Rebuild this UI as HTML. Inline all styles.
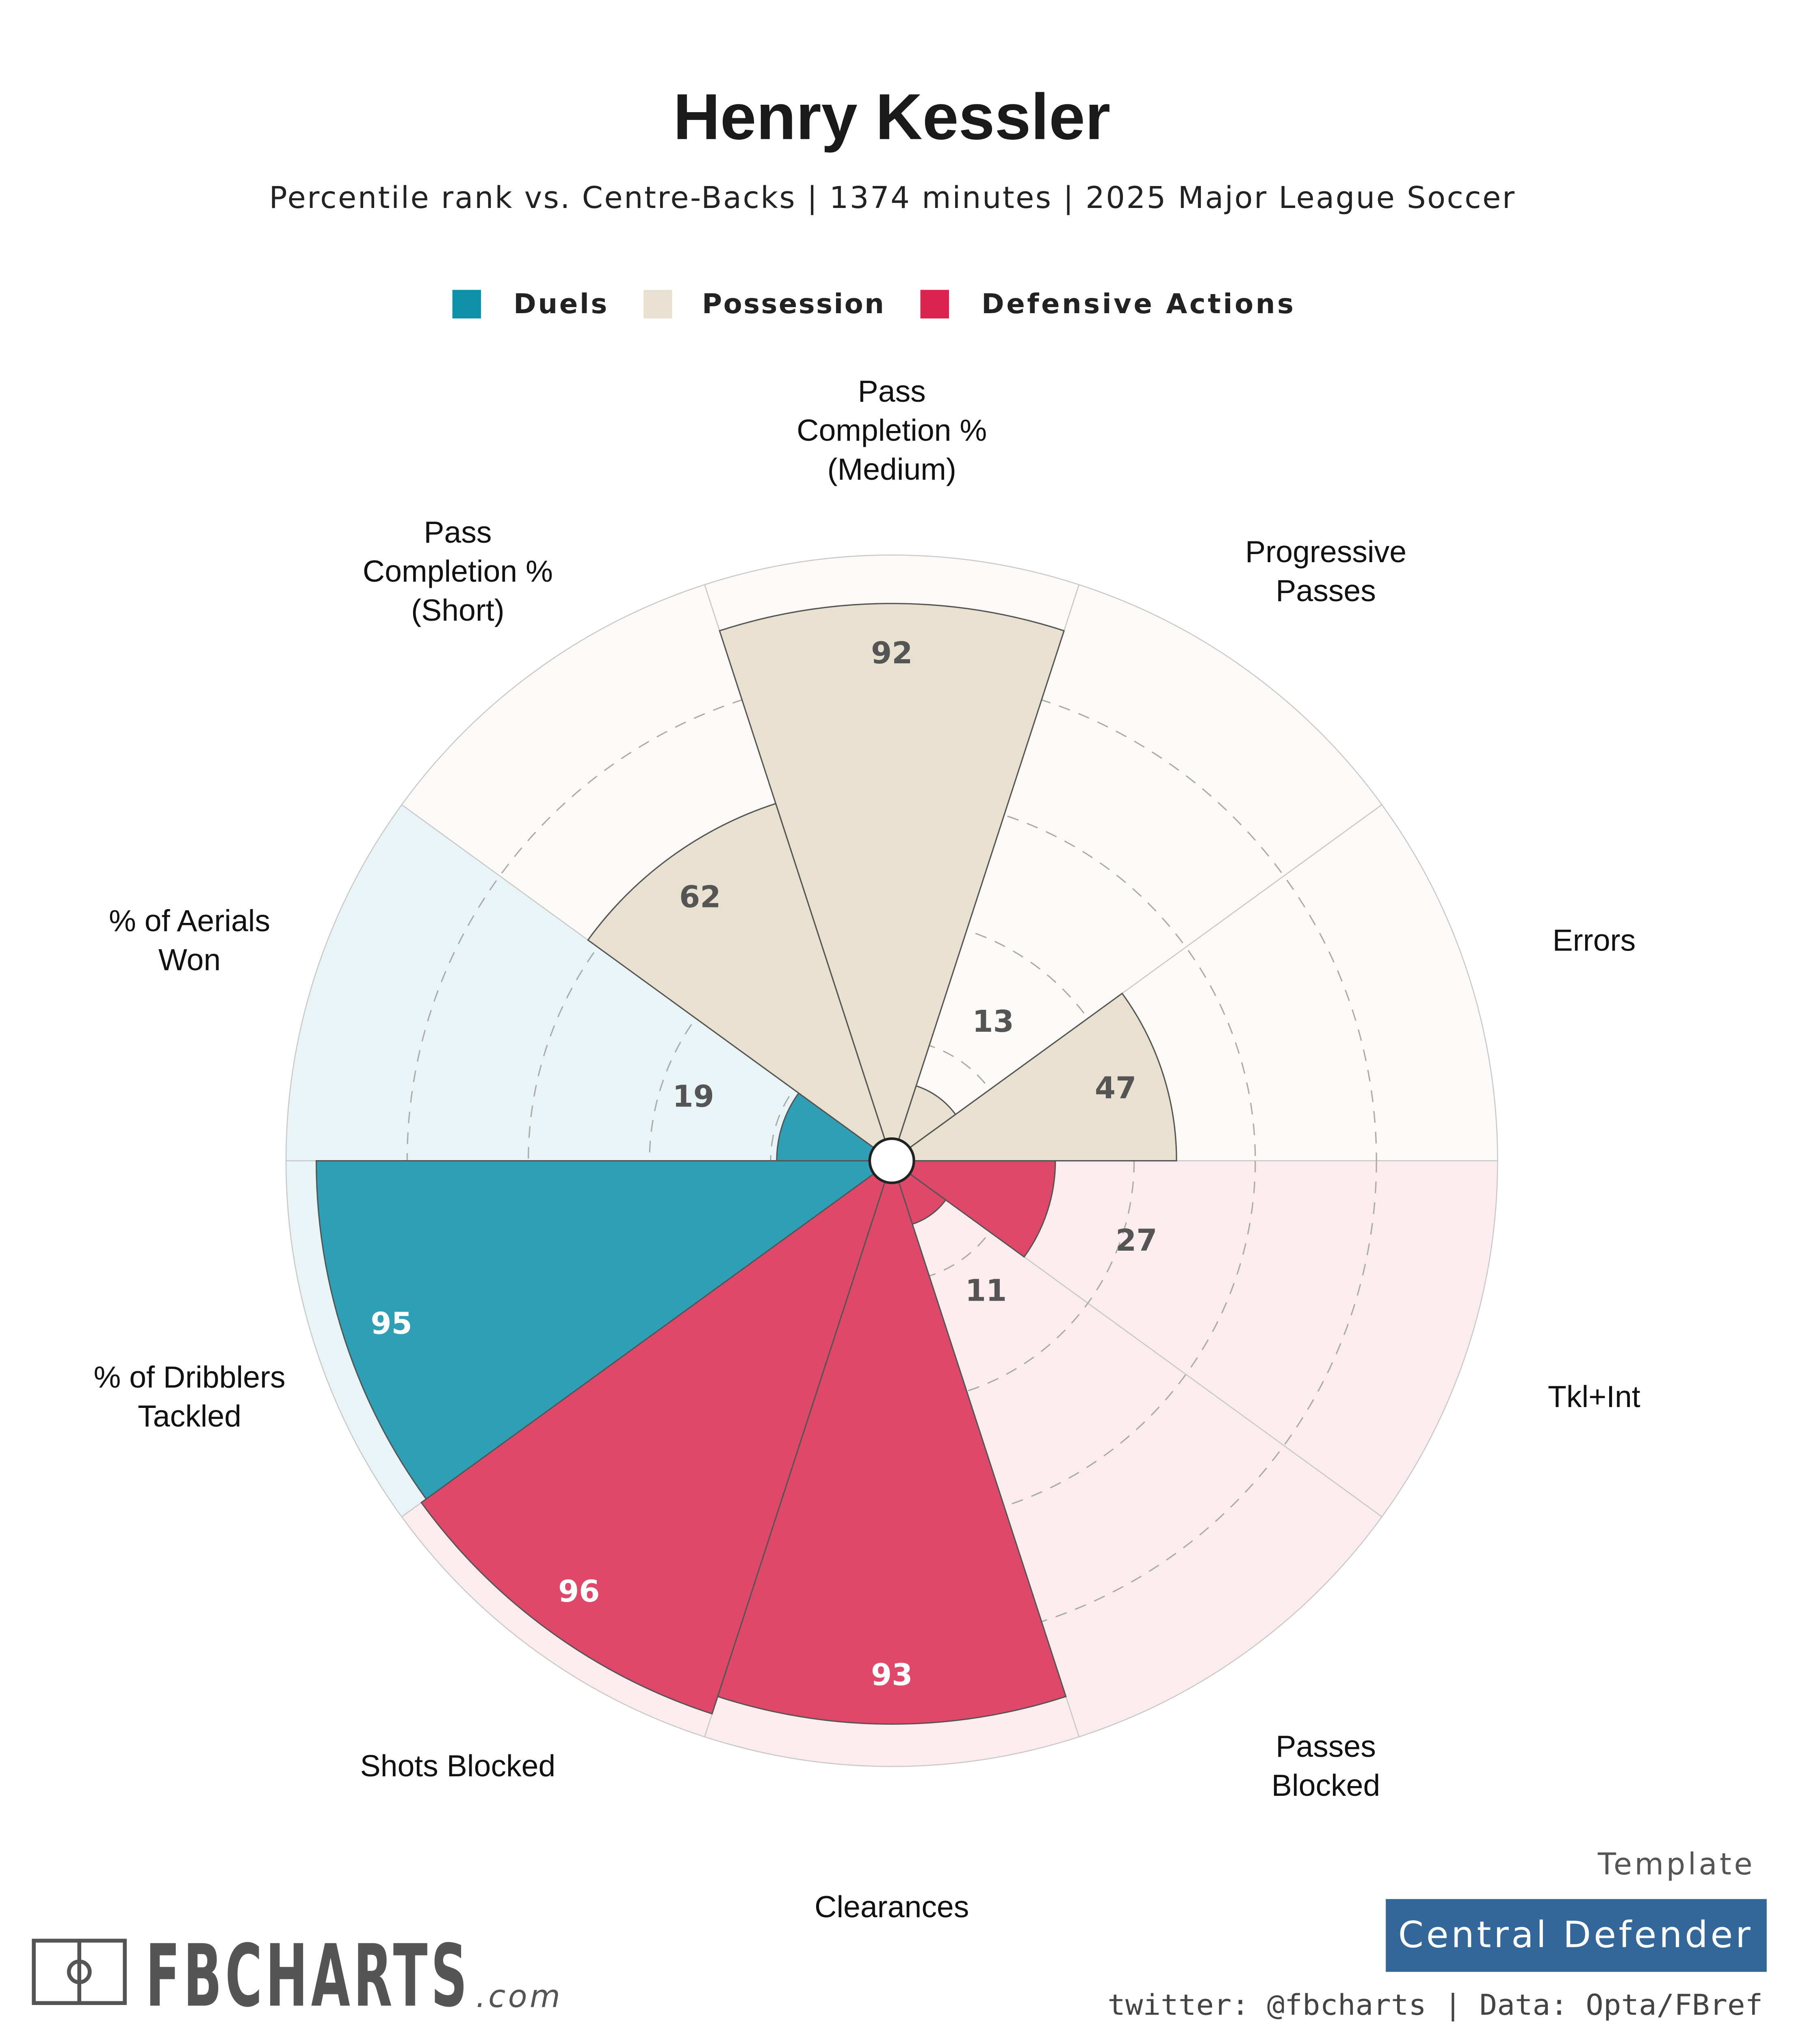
<!DOCTYPE html>
<html><head><meta charset="utf-8"><style>
html,body{margin:0;padding:0;background:#fff;overflow:hidden;width:4480px;height:5120px}
svg{display:block}
</style></head><body>
<svg id="chart" width="4480" height="5120" viewBox="0 0 1400 1600" xmlns="http://www.w3.org/2000/svg">
<rect width="1400" height="1600" fill="#fff"/>
<text x="686" y="107" text-anchor="middle" font-family="Liberation Sans, sans-serif" font-weight="bold" font-size="50" fill="#1a1a1a">Henry Kessler</text>
<text x="686" y="160" text-anchor="middle" font-family="DejaVu Sans, sans-serif" font-size="23" fill="#222" textLength="958" lengthAdjust="spacing">Percentile rank vs. Centre-Backs | 1374 minutes | 2025 Major League Soccer</text>
<g font-family="DejaVu Sans, sans-serif" font-weight="bold" font-size="21" fill="#222">
<rect x="348" y="223" width="22" height="22" fill="#1090a8"/>
<text x="395" y="241" textLength="72" lengthAdjust="spacing">Duels</text>
<rect x="495" y="223" width="22" height="22" fill="#e8e1d0"/>
<text x="540" y="241" textLength="140" lengthAdjust="spacing">Possession</text>
<rect x="708" y="223" width="22" height="22" fill="#dc2350"/>
<text x="755" y="241" textLength="240" lengthAdjust="spacing">Defensive Actions</text>
</g>
<g id="pizza"></g>
<g>
<rect x="26" y="1493" width="70" height="48" fill="none" stroke="#555" stroke-width="3"/>
<line x1="61" y1="1493" x2="61" y2="1541" stroke="#555" stroke-width="3"/>
<circle cx="61" cy="1517" r="8" fill="none" stroke="#555" stroke-width="3"/>
<text x="112" y="1543" font-family="DejaVu Sans Condensed, DejaVu Sans, sans-serif" font-weight="bold" font-size="66" fill="#555" letter-spacing="4" textLength="250" lengthAdjust="spacingAndGlyphs">FBCHARTS</text>
<text x="366" y="1544" font-family="DejaVu Sans, sans-serif" font-style="italic" font-size="24" fill="#555" letter-spacing="2">.com</text>
</g>
<text x="1350" y="1442" text-anchor="end" font-family="DejaVu Sans, sans-serif" font-size="23" fill="#555" letter-spacing="2">Template</text>
<rect x="1066" y="1461" width="293" height="56" fill="#336699"/>
<text x="1212" y="1498" text-anchor="middle" font-family="DejaVu Sans, sans-serif" font-size="28" fill="#fff" letter-spacing="2">Central Defender</text>
<text x="852" y="1550" font-family="DejaVu Sans Mono, monospace" font-size="22" fill="#444" textLength="504" lengthAdjust="spacingAndGlyphs">twitter: @fbcharts | Data: Opta/FBref</text>
</svg>
<script>
const metrics = ["Pass\nCompletion %\n(Medium)","Progressive\nPasses","Errors","Tkl+Int","Passes\nBlocked","Clearances","Shots Blocked","% of Dribblers\nTackled","% of Aerials\nWon","Pass\nCompletion %\n(Short)"];
const values = [92,13,47,27,11,93,96,95,19,62];
const groups = ["pos","pos","pos","def","def","def","def","duel","duel","pos"];

const NS="http://www.w3.org/2000/svg";
const g=document.getElementById('pizza');
const cx=686, cy=893, R=466;
const fillC={pos:"#e8e1d0",def:"#e0486a",duel:"#2f9fb6"};
const bgC={pos:"#fbfaf8",def:"#fbecef",duel:"#e9f4f6"};
const n=metrics.length, step=2*Math.PI/n;
function pt(r,a){return [cx+r*Math.cos(a), cy-r*Math.sin(a)];}
function wedge(r,a0,a1){const p0=pt(r,a0),p1=pt(r,a1);return `M${cx},${cy}L${p0[0]},${p0[1]}A${r},${r} 0 0 1 ${p1[0]},${p1[1]}Z`;}
function mk(tag,attrs){const e=document.createElementNS(NS,tag);for(const k in attrs)e.setAttribute(k,attrs[k]);g.appendChild(e);return e;}
function rOf(v){return R*v/100;}
for(let i=0;i<n;i++){
  const mid=Math.PI/2 - i*step, a0=mid+step/2, a1=mid-step/2;
  const bg=mk('path',{d:wedge(R,a0,a1),fill:bgC[groups[i]],stroke:"#c8c8c8","stroke-width":0.8});
  
  
}
[0.2,0.4,0.6,0.8].forEach(f=>{
  const c=mk('circle',{cx:cx,cy:cy,r:R*f,fill:"none",stroke:"#aaa","stroke-width":1,"stroke-dasharray":"9 7"});
  
  
});
for(let i=0;i<n;i++){
  const mid=Math.PI/2 - i*step, a0=mid+step/2, a1=mid-step/2;
  const bar=mk('path',{d:wedge(rOf(values[i]),a0,a1),fill:fillC[groups[i]],stroke:"#555","stroke-width":1});
  
  
}
mk('circle',{cx:cx,cy:cy,r:17,fill:"#fff",stroke:"#222","stroke-width":2});
for(let i=0;i<n;i++){
  const mid=Math.PI/2 - i*step, v=values[i];
  const r = v<30 ? rOf(v)+72 : rOf(v)-38;
  const p=pt(r,mid);
  const white = groups[i]!=="pos" && v>=30;
  const t=mk('text',{x:p[0],y:p[1]+8,"text-anchor":"middle","font-family":"DejaVu Sans, sans-serif","font-weight":"bold","font-size":23,fill:white?"#fff":"#555"});
  t.textContent=v;
  
  
  const lp=pt(568,mid), lines=metrics[i].split("\n");
  const lt=mk('text',{x:lp[0],"text-anchor":"middle","font-family":"Liberation Sans, sans-serif","font-size":23.5,fill:"#111"});
  
  
  const lh=30, y0=lp[1]-(lines.length-1)*lh/2+14;
  lines.forEach((s,k)=>{const ts=document.createElementNS(NS,'tspan');ts.setAttribute('x',lp[0]);ts.setAttribute('y',y0+k*lh);ts.textContent=s;lt.appendChild(ts);});
}
</script>
</body></html>
